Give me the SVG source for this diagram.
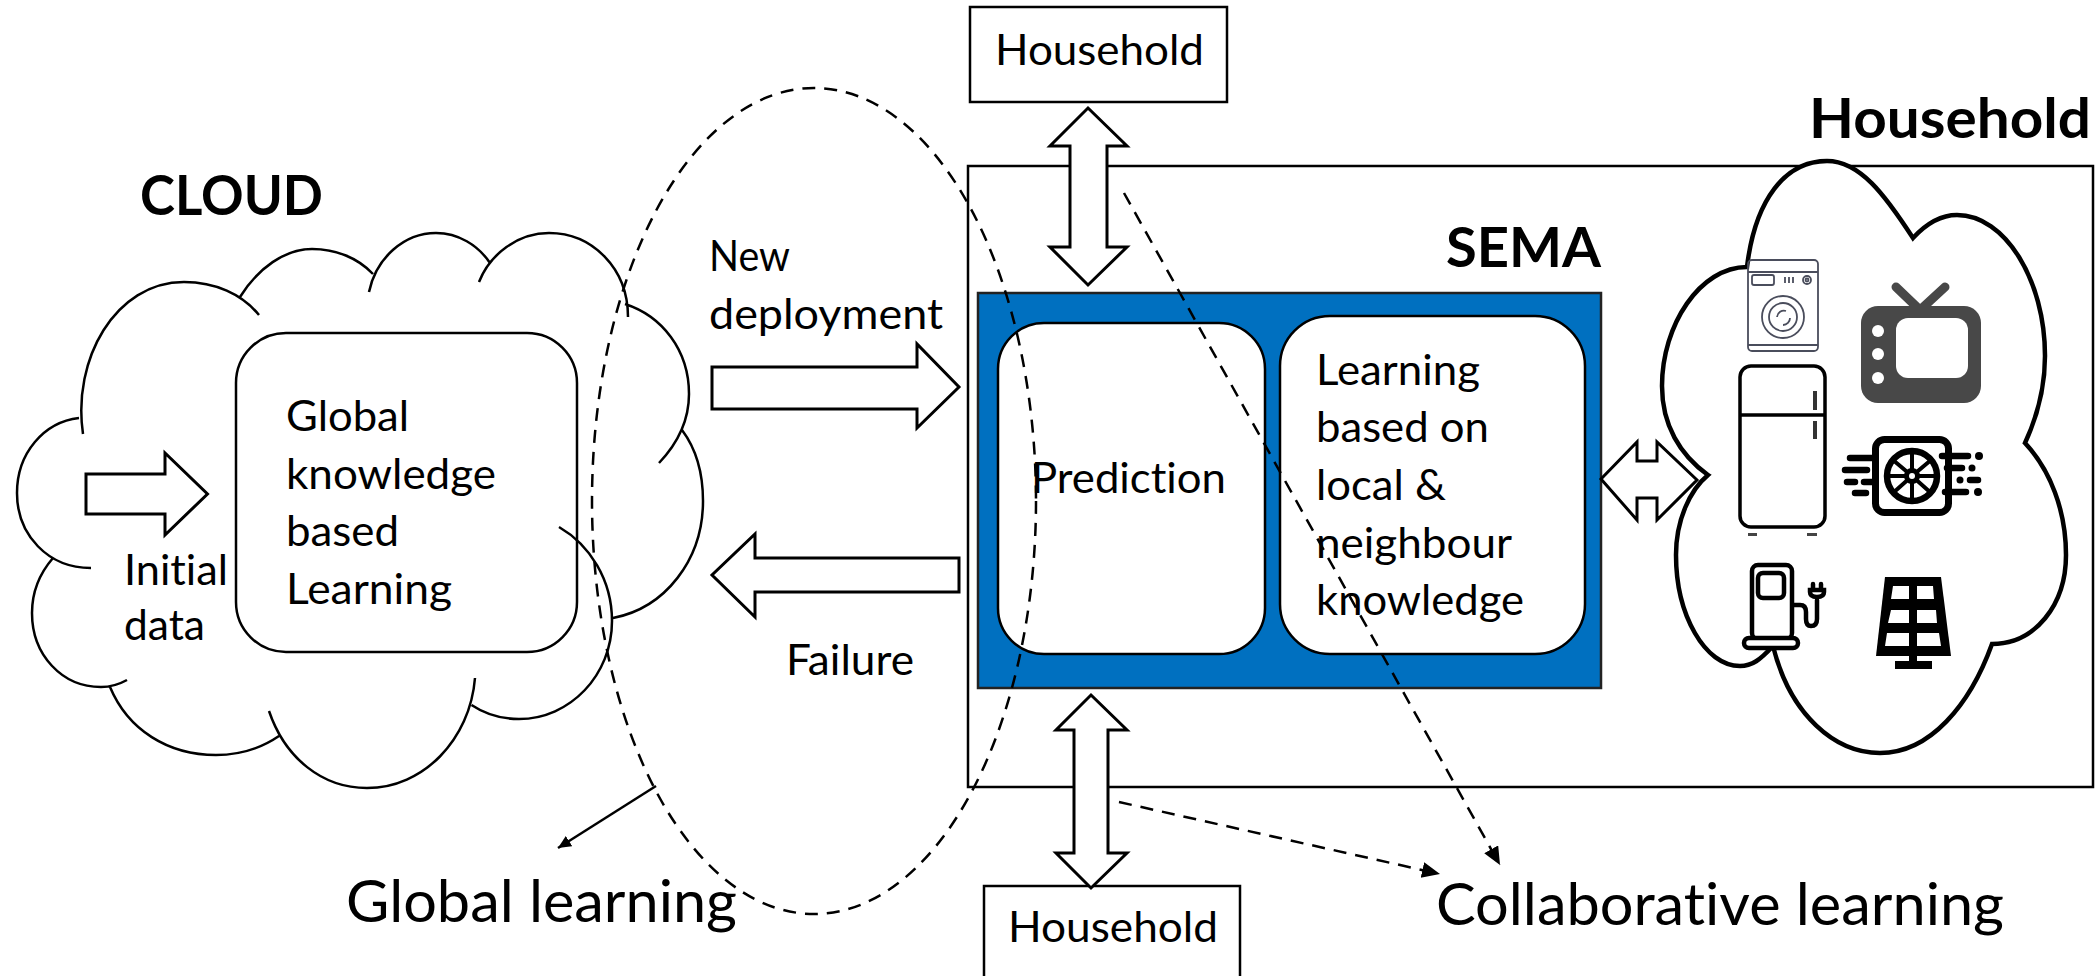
<svg xmlns="http://www.w3.org/2000/svg" width="2095" height="976" viewBox="0 0 2095 976">
<style>
.t{font-family:Lato,"Liberation Sans",sans-serif;fill:#000;font-variant-ligatures:none}
.m{font-size:42px}
.b{font-weight:700;font-size:56px}
.s{fill:none;stroke:#000;stroke-width:2.5}
.w{fill:#fff;stroke:#000;stroke-width:2.5}
.ar{fill:#fff;stroke:#000;stroke-width:3;stroke-linejoin:miter}
.d{fill:none;stroke:#000;stroke-width:2.5;stroke-dasharray:13 9}
.i{fill:none;stroke:#000;stroke-width:4.500;stroke-linecap:round}
.l{font-size:58px}
</style>
<defs>
<marker id="tip" markerUnits="userSpaceOnUse" markerWidth="20" markerHeight="18" refX="18" refY="8" orient="auto"><path d="M0,0L18,8L0,16Z" fill="#000"/></marker>
<marker id="tip2" markerUnits="userSpaceOnUse" markerWidth="14" markerHeight="14" refX="13" refY="6" orient="auto"><path d="M0,0L13,6L0,12Z" fill="#000"/></marker>
</defs>
<rect width="2095" height="976" fill="#fff"/>

<g id="sema-box">
<rect x="968" y="166" width="1125" height="621" fill="none" stroke="#000" stroke-width="2.5"/>
<text class="t b" x="1446" y="267" textLength="155" lengthAdjust="spacingAndGlyphs">SEMA</text>
</g>
<g id="sema-inner">
<rect x="978" y="293" width="623" height="395" fill="#0070c0" stroke="#222" stroke-width="2.5"/>
</g>
<g id="prediction">
<rect class="w" x="998" y="323" width="267" height="331" rx="46"/>
<text class="t m" x="1031" y="493" textLength="195" lengthAdjust="spacingAndGlyphs">Prediction</text>
</g>
<g id="learning">
<rect class="w" x="1280" y="316" width="305" height="338" rx="50"/>
<text class="t m" x="1316" y="385" textLength="164" lengthAdjust="spacingAndGlyphs">Learning</text>
<text class="t m" x="1316" y="442" textLength="173" lengthAdjust="spacingAndGlyphs">based on</text>
<text class="t m" x="1316" y="500" textLength="130" lengthAdjust="spacingAndGlyphs">local &amp;</text>
<text class="t m" x="1316" y="558" textLength="196" lengthAdjust="spacingAndGlyphs">neighbour</text>
<text class="t m" x="1316" y="615" textLength="208" lengthAdjust="spacingAndGlyphs">knowledge</text>
</g>

<g id="cloud">
<text class="t b" x="140" y="215" textLength="183" lengthAdjust="spacingAndGlyphs">CLOUD</text>
<path class="s" d="M83,434C72,360 115,282 184,282C215,282 242,294 259,315M240,297C258,268 285,249 312,249C336,249 358,258 373,274M369,292C376,258 404,233 436,233C458,233 478,245 490,263M479,282C490,254 518,233 549,233C592,233 628,268 628,317M625,304C662,316 689,350 689,394C689,420 678,443 659,463M682,430C697,450 703,475 703,501C703,560 665,608 613,618M559,527C590,545 612,580 612,621C612,675 570,719 519,719C502,719 485,714 471.5,705M475,678C470,740 423,788 367,788C322,788 285,758 269,711M279,736C260,749 238,755 216,755C168,755 128,730 110,687M127,680C118,685 110,687 101,687C62,687 32,655 32,613C32,592 40,573 53,558M91,568C48,568 17,535 17,493C17,453 44,422 79,418"/>
<path class="ar" d="M86,474H165V453L207.500,494L165,535V514H86Z"/>
<text class="t m" x="124" y="585" textLength="104" lengthAdjust="spacingAndGlyphs">Initial</text>
<text class="t m" x="124" y="640" textLength="81" lengthAdjust="spacingAndGlyphs">data</text>
</g>
<g id="global-knowledge">
<rect x="236" y="333" width="341" height="319" rx="50" fill="none" stroke="#000" stroke-width="2.5"/>
<text class="t m" x="286" y="431" textLength="123" lengthAdjust="spacingAndGlyphs">Global</text>
<text class="t m" x="286" y="489" textLength="210" lengthAdjust="spacingAndGlyphs">knowledge</text>
<text class="t m" x="286" y="546" textLength="113" lengthAdjust="spacingAndGlyphs">based</text>
<text class="t m" x="286" y="604" textLength="166" lengthAdjust="spacingAndGlyphs">Learning</text>
</g>

<g id="household-top">
<rect x="970" y="7" width="257" height="95" fill="#fff" stroke="#000" stroke-width="2.500"/>
<text class="t m" x="995" y="65" textLength="209" lengthAdjust="spacingAndGlyphs">Household</text>
</g>
<g id="household-bottom">
<rect x="984" y="886" width="256" height="110" fill="#fff" stroke="#000" stroke-width="2.500"/>
<text class="t m" x="1008" y="942" textLength="210" lengthAdjust="spacingAndGlyphs">Household</text>
</g>

<g id="household-cloud">
<path fill="#fff" stroke="#000" stroke-width="4.500" stroke-linejoin="miter" d="M1747,267C1755,200 1785,161 1827,161C1860,161 1885,195 1913,238C1925,225 1940,215 1957,215C2005,215 2045,280 2045,356C2045,385 2038,415 2025,443C2050,470 2066,510 2066,555C2066,605 2035,644 1992,644C1970,705 1930,753 1880,753C1835,753 1790,715 1773,646C1760,660 1752,666 1740,666C1705,666 1676,615 1676,555C1676,520 1690,490 1708,475C1680,455 1662,425 1662,386C1662,325 1700,267 1747,267Z"/>
<text class="t b" x="1809" y="138" textLength="282" lengthAdjust="spacingAndGlyphs">Household</text>
<g fill="none" stroke="#4a4d5c" stroke-width="1.800">
<rect x="1748" y="260" width="70" height="91" rx="4"/>
<path d="M1748,272H1818M1748,345H1818M1785,277V283M1789,277V283M1793,277V283"/>
<rect x="1752" y="275" width="22" height="10" rx="2"/>
<circle cx="1807" cy="280" r="4"/><circle cx="1807" cy="280" r="1.500"/>
<circle cx="1783" cy="317" r="21"/><circle cx="1783" cy="317" r="14"/>
<path d="M1777,317a7,7 0 0 1 9,-6M1790,318a7,7 0 0 1 -7,7"/>
</g>
<g>
<rect x="1740" y="366" width="85" height="161" rx="11" fill="none" stroke="#000" stroke-width="3.500"/>
<path fill="none" stroke="#000" stroke-width="3.500" d="M1740,415H1825"/>
<path fill="none" stroke="#333" stroke-width="4" d="M1815,391V410M1815,421V439"/>
<path fill="none" stroke="#444" stroke-width="3" d="M1748,534.500H1757M1807,534.500H1817"/>
</g>
<g>
<path fill="none" stroke="#484848" stroke-width="9" stroke-linecap="round" d="M1896,287L1920,310L1945,287"/>
<rect x="1861" y="306" width="120" height="97" rx="17" fill="#484848"/>
<rect x="1896" y="318" width="72" height="60" rx="12" fill="#fff"/>
<circle cx="1878" cy="331" r="6" fill="#fff"/><circle cx="1878" cy="354" r="6" fill="#fff"/><circle cx="1878" cy="378" r="6" fill="#fff"/>
</g>
<g>
<rect x="1875.500" y="439.500" width="73" height="73" rx="9" fill="none" stroke="#000" stroke-width="7"/>
<circle cx="1912" cy="476" r="25" fill="#fff" stroke="#000" stroke-width="6.500"/>
<g stroke="#000" stroke-width="4"><path d="M1912,476V451M1912,476L1931,460M1912,476L1937,476M1912,476L1931,493M1912,476L1912,501M1912,476L1893,493M1912,476L1887,476M1912,476L1893,460"/></g>
<circle cx="1912" cy="476" r="8" fill="#000"/>
<circle cx="1912" cy="476" r="3" fill="#fff"/>
<path fill="none" stroke="#000" stroke-width="6.500" stroke-linecap="round" d="M1850,458H1873M1845,470H1867M1847,482H1855M1864,482H1873M1855,493H1866M1942,456H1968M1947,468H1962M1970,480H1978M1945,492H1966"/>
<circle cx="1979" cy="456" r="4" fill="#000"/><circle cx="1972" cy="468" r="3.500" fill="#000"/><circle cx="1960" cy="480" r="3.500" fill="#000"/><circle cx="1978" cy="492" r="4" fill="#000"/>
</g>
<g>
<rect x="1752" y="565" width="40" height="74" rx="6" fill="#fff" stroke="#000" stroke-width="4.500"/>
<rect x="1758" y="573" width="26" height="25" rx="5" fill="none" stroke="#000" stroke-width="4.500"/>
<rect x="1744" y="638" width="54" height="10" rx="5" fill="#fff" stroke="#000" stroke-width="4.500"/>
<path class="i" d="M1793,605H1800Q1806,605 1806,612V619Q1806,626 1811,626Q1817,626 1817,619V600"/>
<path fill="#fff" stroke="#000" stroke-width="4.500" d="M1810,590H1824V592Q1824,597 1817,597Q1810,597 1810,592Z"/>
<path class="i" d="M1813,588V584M1821,588V584"/>
</g>
<g>
<path fill="#000" d="M1885,577H1941L1951,656H1876Z"/>
<path fill="#fff" d="M1893,586H1909V599H1891ZM1917,586H1933L1934,599H1917ZM1891,610H1909V623H1888ZM1917,610H1936L1937,623H1917ZM1887,633H1909V646H1885ZM1917,633H1939L1941,646H1917Z"/>
<rect x="1909" y="655" width="8" height="8" fill="#000"/>
<rect x="1895" y="661" width="37" height="8" fill="#000"/>
</g>
</g>

<g id="connectors">
<path class="ar" d="M712,367H917V344L959,387L917,428V409H712Z"/>
<path class="ar" d="M959,558H755V534L712,575L755,617V592H959Z"/>
<path class="ar" d="M1088,108L1127,146H1107V247H1127L1088,285L1050,247H1070V146H1050Z"/>
<path class="ar" d="M1091,695L1127,730H1108V853H1127L1091,888L1056,853H1074V730H1056Z"/>
<path class="ar" d="M1601,479L1637,442V461H1657V442L1697,480L1657,520V498H1637V520Z"/>
<ellipse class="d" cx="814" cy="501" rx="222" ry="413"/>
<path class="d" d="M1124,193L1500,865" marker-end="url(#tip)"/>
<path class="d" d="M1119,802L1440,874" marker-end="url(#tip)"/>
<path fill="none" stroke="#000" stroke-width="2.500" d="M656,786L558,848" marker-end="url(#tip2)"/>
</g>

<g id="labels">
<text class="t m" x="709" y="271" textLength="81" lengthAdjust="spacingAndGlyphs">New</text>
<text class="t m" x="709" y="329" textLength="234" lengthAdjust="spacingAndGlyphs">deployment</text>
<text class="t m" x="786" y="675" textLength="128" lengthAdjust="spacingAndGlyphs">Failure</text>
<text class="t l" x="346" y="922" textLength="391" lengthAdjust="spacingAndGlyphs">Global learning</text>
<text class="t l" x="1436" y="925" textLength="568" lengthAdjust="spacingAndGlyphs">Collaborative learning</text>
</g>
</svg>
